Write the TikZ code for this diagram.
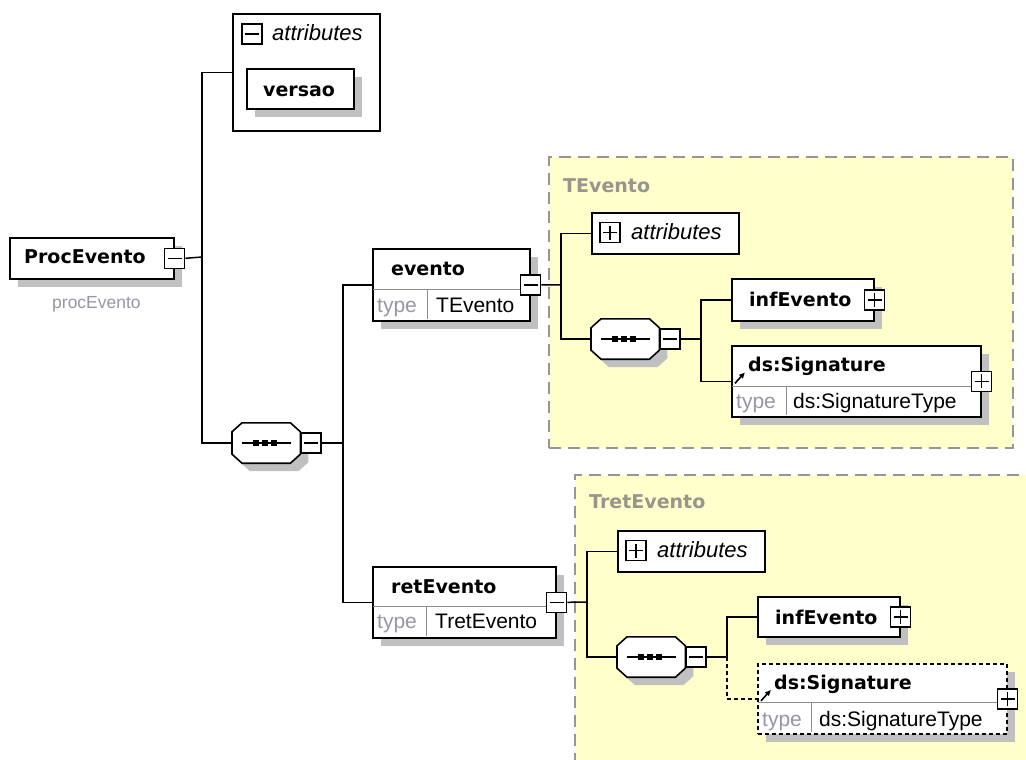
\documentclass[tikz,border=0pt]{standalone}
\usepackage{fontspec}
\setmainfont{Liberation Sans}
\newfontfamily\dejavu{DejaVu Sans}
\usetikzlibrary{shadows,arrows.meta}

\definecolor{paleyellow}{RGB}{255,255,204}
\definecolor{areagray}{RGB}{150,150,150}
\definecolor{shadegray}{RGB}{192,192,192}
\definecolor{labelgray}{RGB}{150,150,140}
\definecolor{typegray}{RGB}{150,150,165}
\definecolor{rulegray}{RGB}{140,140,140}

\tikzset{
  elem/.style={draw, line width=1.6pt, fill=white, anchor=north west, inner sep=0pt,
    general shadow={fill=shadegray, draw=none, shadow xshift=8pt, shadow yshift=-8pt}},
  plainbox/.style={draw, line width=1.6pt, fill=white, anchor=north west, inner sep=0pt},
  typearea/.style={draw=areagray, fill=paleyellow, line width=1.6pt,
    dash pattern=on 12pt off 7pt, anchor=north west, inner sep=0pt},
  seq/.style={rectangle, minimum width=68pt, minimum height=40pt, inner sep=0pt, anchor=west},
  octagon/.style={insert path={
    ([xshift=10pt]#1.north west) -- ([xshift=-10pt]#1.north east)
    -- ([yshift=-9pt]#1.north east) -- ([yshift=9pt]#1.south east)
    -- ([xshift=-10pt]#1.south east) -- ([xshift=10pt]#1.south west)
    -- ([yshift=9pt]#1.south west) -- ([yshift=-9pt]#1.north west) -- cycle}},
  minusbox/.style={draw, fill=white, line width=1.6pt, minimum size=20pt, inner sep=0pt,
    path picture={
      \draw[black, line width=1.5pt] ([xshift=3pt]path picture bounding box.west)
        -- ([xshift=-3pt]path picture bounding box.east);
    }},
  plusbox/.style={draw, fill=white, line width=1.6pt, minimum size=20pt, inner sep=0pt,
    path picture={
      \draw[black, line width=1.5pt] ([xshift=3pt]path picture bounding box.west)
        -- ([xshift=-3pt]path picture bounding box.east);
      \draw[black, line width=1.5pt] ([yshift=-3pt]path picture bounding box.north)
        -- ([yshift=3pt]path picture bounding box.south);
    }},
  conn/.style={line width=1.5pt},
  optdash/.style={dash pattern=on 4pt off 3pt},
  divider/.style={draw=rulegray, line width=1pt},
  nametxt/.style={anchor=base west, inner sep=0pt, font=\dejavu\bfseries\fontsize{19}{22}\selectfont},
  arealabel/.style={nametxt, text=labelgray},
  attrtxt/.style={anchor=base west, inner sep=0pt, font=\itshape\fontsize{22}{26}\selectfont},
  typetxt/.style={anchor=base west, inner sep=0pt, font=\fontsize{21}{24}\selectfont},
  typelbl/.style={typetxt, text=typegray},
  subtxt/.style={anchor=base west, inner sep=0pt, text=typegray, font=\fontsize{17.5}{20}\selectfont},
  refarrow/.style={line width=1.6pt, -{Latex[length=6pt,width=6pt]}}
}

% sequence compositor glyph drawn around a seq node
\newcommand{\seqglyph}[1]{%
  \fill[shadegray, transform canvas={shift={(8pt,-8pt)}}, octagon=#1];
  \draw[line width=1.6pt, fill=white, octagon=#1];
  \draw[line width=1.4pt] ([xshift=-24pt]#1.center) -- ([xshift=25pt]#1.center);
  \foreach \dx in {-13pt,-4pt,5pt}
    \fill[black] ([shift={(\dx,-3pt)}]#1.center) rectangle ++(6pt,6pt);
}

\begin{document}
\begin{tikzpicture}[x=1pt, y=-1pt]
    \useasboundingbox (0,0) rectangle (1026,760);
    \clip (0,0) rectangle (1026,760);

    % complex type areas
    \node[typearea, minimum width=464pt, minimum height=291pt] (tevento) at (548,156) {};
    \node[arealabel] (teventolbl) at (563,192) {TEvento};
    \node[typearea, minimum width=480pt, minimum height=320pt] (tretevento) at (574,474) {};
    \node[arealabel] (tretlbl) at (589,508) {TretEvento};

    % root element
    \node[elem, minimum width=164pt, minimum height=41pt] (proc) at (9,237) {};
    \node[nametxt] (proctxt) at (24,263) {ProcEvento};
    \node[minusbox] (procm) at (proc.east) {};
    \node[subtxt] (proclbl) at (52,308) {procEvento};

    % attributes of the root
    \node[plainbox, minimum width=147pt, minimum height=117pt] (attr1) at (232,13) {};
    \node[minusbox] (attr1m) at (252,34) {};
    \node[attrtxt] (attr1txt) at (272,41) {attributes};
    \node[elem, minimum width=107pt, minimum height=40pt] (versao) at (246,68) {};
    \node[nametxt] (versaotxt) at (263,96) {versao};

    % sequence of the root
    \node[seq] (seq1) at (232,443) {};
    \seqglyph{seq1}
    \node[minusbox, anchor=west] (seq1m) at (seq1.east) {};

    % evento
    \node[elem, minimum width=157pt, minimum height=72pt] (evento) at (372,248) {};
    \draw[divider] (373,289) -- (528,289) (427,289) -- (427,319);
    \node[nametxt] (eventotxt) at (391,275) {evento};
    \node[typelbl] (eventotype) at (377,312) {type};
    \node[typetxt] (eventotypetxt) at (436,312) {TEvento};
    \node[minusbox] (eventom) at (evento.east) {};

    % retEvento
    \node[elem, minimum width=183pt, minimum height=71pt] (retevento) at (372,566) {};
    \draw[divider] (373,606) -- (554,606) (426,606) -- (426,636);
    \node[nametxt] (reteventotxt) at (391,593) {retEvento};
    \node[typelbl] (reteventotype) at (377,628) {type};
    \node[typetxt] (reteventotypetxt) at (435,628) {TretEvento};
    \node[minusbox] (reteventom) at (retevento.east) {};

    % TEvento content
    \node[plainbox, minimum width=147pt, minimum height=41pt] (attr2) at (591,212) {};
    \node[plusbox] (attr2p) at (610,232.5) {};
    \node[attrtxt] (attr2txt) at (631,239) {attributes};
    \node[seq] (seq2) at (591,339) {};
    \seqglyph{seq2}
    \node[minusbox, anchor=west] (seq2m) at (seq2.east) {};
    \node[elem, minimum width=142pt, minimum height=42pt] (inf2) at (731,278) {};
    \node[nametxt] (inf2txt) at (749,306) {infEvento};
    \node[plusbox] (inf2p) at (inf2.east) {};
    \node[elem, minimum width=249pt, minimum height=71pt] (sig2) at (731,345) {};
    \draw[divider] (732,386) -- (979,386) (786,386) -- (786,415);
    \node[nametxt] (sig2txt) at (748,371) {ds:Signature};
    \node[typelbl] (sig2type) at (736,408) {type};
    \node[typetxt] (sig2typetxt) at (793,408) {ds:SignatureType};
    \draw[refarrow] ([shift={(4pt,-2pt)}]sig2.west) -- ([shift={(14pt,9pt)}]sig2.west);
    \node[plusbox] (sig2p) at (sig2.east) {};

    % TretEvento content
    \node[plainbox, minimum width=147pt, minimum height=41pt] (attr3) at (617,530) {};
    \node[plusbox] (attr3p) at (636,550.5) {};
    \node[attrtxt] (attr3txt) at (657,557) {attributes};
    \node[seq] (seq3) at (617,657) {};
    \seqglyph{seq3}
    \node[minusbox, anchor=west] (seq3m) at (seq3.east) {};
    \node[elem, minimum width=142pt, minimum height=40pt] (inf3) at (757,596) {};
    \node[nametxt] (inf3txt) at (775,624) {infEvento};
    \node[plusbox] (inf3p) at (inf3.east) {};
    \node[elem, optdash, minimum width=249pt, minimum height=70pt] (sig3) at (757,663) {};
    \draw[divider] (758,702) -- (1005,702) (811,702) -- (811,732);
    \node[nametxt] (sig3txt) at (774,689) {ds:Signature};
    \node[typelbl] (sig3type) at (762,726) {type};
    \node[typetxt] (sig3typetxt) at (819,726) {ds:SignatureType};
    \draw[refarrow] ([shift={(4pt,-2pt)}]sig3.west) -- ([shift={(14pt,9pt)}]sig3.west);
    \node[plusbox] (sig3p) at (sig3.east) {};

    % connectors
    \coordinate (j1) at (202,257);
    \draw[conn] (procm.east) -- (j1);
    \draw[conn] (attr1.west) -| (j1) |- (seq1.west);
    \coordinate (j2) at (343,443);
    \draw[conn] (seq1m.east) -- (j2);
    \draw[conn] (evento.west) -| (j2) |- (retevento.west);
    \coordinate (j3) at (561,285);
    \draw[conn] (eventom.east) -- (j3);
    \draw[conn] (attr2.west) -| (j3) |- (seq2.west);
    \coordinate (j4) at (701,339);
    \draw[conn] (seq2m.east) -- (j4);
    \draw[conn] (inf2.west) -| (j4) |- (sig2.west);
    \coordinate (j5) at (587,602);
    \draw[conn] (reteventom.east) -- (j5);
    \draw[conn] (attr3.west) -| (j5) |- (seq3.west);
    \coordinate (j6) at (727,657);
    \draw[conn] (seq3m.east) -- (j6);
    \draw[conn] (inf3.west) -| (j6);
    \draw[conn, optdash] (j6) |- (sig3.west);
\end{tikzpicture}
\end{document}
